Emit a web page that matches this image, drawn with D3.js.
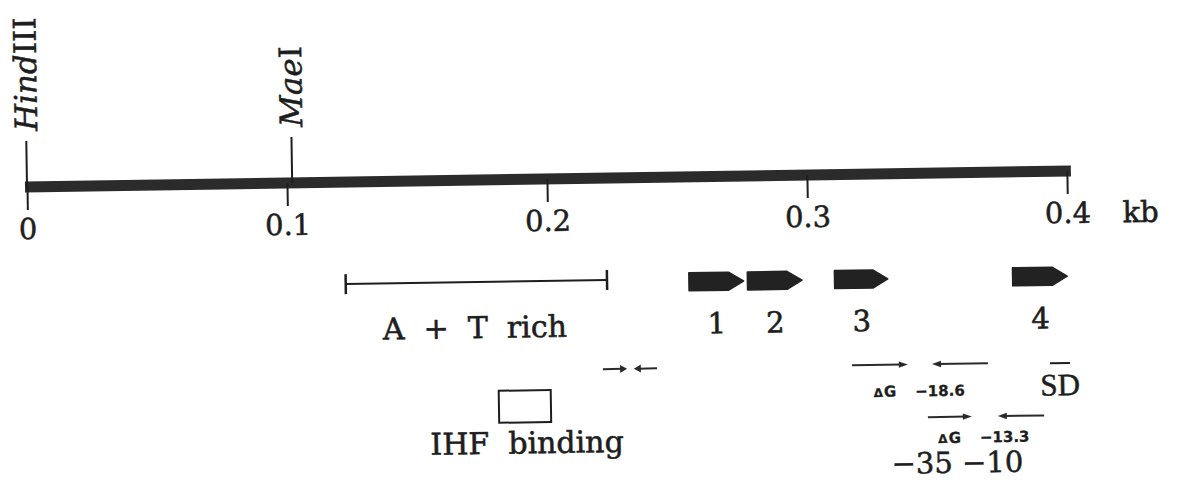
<!DOCTYPE html>
<html>
<head>
<meta charset="utf-8">
<script src="https://cdn.jsdelivr.net/npm/d3@7"></script>
<style>
  html, body { margin: 0; padding: 0; background: #fff; }
  svg { display: block; }
  text { white-space: pre; }
</style>
</head>
<body>
<script>
// ---------------- data ----------------
const tickValues = [0, 0.1, 0.2, 0.3, 0.4];
const tickLabels = ["0", "0.1", "0.2", "0.3", "0.4"];
const unitLabel = "kb";

const siteNames = ["Hind", "Mae"];
const siteSuffix = ["III", "I"];
const sitePos = [0, 0.102];

const atRich = [0.122, 0.2225];
const atRichLabel = "A  +  T  rich";
const atRichLabelPos = 0.1714;

const orfLabels = ["1", "2", "3", "4"];
const orfStart = [0.254, 0.2765, 0.310, 0.3785];
const orfEnd = [0.275, 0.2975, 0.3305, 0.3995];

const ihfBox = [0.1802, 0.2002];
const ihfLabel = "IHF  binding";
const ihfLabelPos = 0.1908;

// inverted repeats: [from, to] (direction from -> to), row
const repFrom = [0.2204, 0.2412, 0.3162, 0.3685, 0.3451, 0.3898];
const repTo   = [0.2297, 0.2323, 0.3377, 0.3470, 0.3620, 0.3720];
const repRow  = [0, 0, 0, 0, 1, 1];
const repSmall = [true, true, false, false, false, false];

const dGValues = ["−18.6", "−13.3"];
const dGPos = [0.3419, 0.3665];

const promoterLabel = "−35 −10";
const promoterPos = 0.3562;
const sdLabel = "SD";
const sdPos = 0.3885;

// ---------------- drawing ----------------
const W = 1179, H = 483;
const svg = d3.select("body").append("svg").attr("width", W).attr("height", H);
svg.append("rect").attr("width", W).attr("height", H).attr("fill", "#fff");

const x = d3.scaleLinear().domain([0, 0.4]).range([27, 1067]);
const barY = 187;
const ink = "#1e1e1e";
const serif = "'DejaVu Serif', 'Liberation Serif', serif";

const g = svg.append("g").attr("transform", `rotate(-0.88, ${x(0)}, ${barY})`);

function heavy(sel, w) {
  return sel.attr("stroke", ink).attr("stroke-width", w || 0.6).attr("paint-order", "stroke");
}

// main bar
g.append("line")
  .attr("x1", x(0) - 2).attr("x2", x(0.4) + 4)
  .attr("y1", barY).attr("y2", barY)
  .attr("stroke", "#2b2b2b").attr("stroke-width", 11);

// axis
const axis = d3.axisBottom(x)
  .tickValues(tickValues)
  .tickFormat((d, i) => tickLabels[i])
  .tickSize(23).tickSizeOuter(0);
const ag = g.append("g").attr("transform", `translate(0,${barY})`).call(axis);
ag.select(".domain").remove();
ag.selectAll(".tick line").attr("stroke", ink).attr("stroke-width", 2);
heavy(ag.selectAll(".tick text")
  .attr("y", 52).attr("dy", 0)
  .attr("fill", ink)
  .style("font-family", serif).style("font-size", "29px"), 0.5);

heavy(g.append("text")
  .attr("x", x(0.4) + 55).attr("y", barY + 52)
  .attr("fill", ink).style("font-family", serif).style("font-size", "29px")
  .text(unitLabel));

// restriction sites
sitePos.forEach((p, i) => {
  g.append("line")
    .attr("x1", x(p)).attr("x2", x(p))
    .attr("y1", 141).attr("y2", barY)
    .attr("stroke", ink).attr("stroke-width", 2);
  const t = g.append("text")
    .attr("transform", `translate(${x(p) + 11},${131}) rotate(-90)`)
    .attr("fill", ink).style("font-family", serif).style("font-size", "31px");
  heavy(t, 0.5);
  t.append("tspan").style("font-style", "italic").text(siteNames[i]);
  t.append("tspan").text(siteSuffix[i]);
});

// A + T rich
const atY = 289;
g.append("line").attr("x1", x(atRich[0])).attr("x2", x(atRich[1]))
  .attr("y1", atY).attr("y2", atY).attr("stroke", ink).attr("stroke-width", 2);
atRich.forEach(p => {
  g.append("line").attr("x1", x(p)).attr("x2", x(p))
    .attr("y1", atY - 10).attr("y2", atY + 10)
    .attr("stroke", ink).attr("stroke-width", 2.5);
});
heavy(g.append("text").attr("x", x(atRichLabelPos)).attr("y", 345)
  .attr("text-anchor", "middle").attr("fill", ink)
  .style("font-family", serif).style("font-size", "30px")
  .text(atRichLabel));

// ORF block arrows
const orfY = 292, orfH = 18, headL = 15;
orfStart.forEach((s, i) => {
  const x0 = x(s), x1 = x(orfEnd[i]);
  const p = d3.path();
  p.moveTo(x0, orfY - orfH / 2);
  p.lineTo(x1 - headL, orfY - orfH / 2);
  p.lineTo(x1, orfY);
  p.lineTo(x1 - headL, orfY + orfH / 2);
  p.lineTo(x0, orfY + orfH / 2);
  p.closePath();
  g.append("path").attr("d", p.toString()).attr("fill", "#222")
    .attr("stroke", "#222").attr("stroke-width", 1.5).attr("stroke-linejoin", "round");
  heavy(g.append("text").attr("x", (x0 + x1) / 2).attr("y", 344)
    .attr("text-anchor", "middle").attr("fill", ink)
    .style("font-family", serif).style("font-size", "29px")
    .text(orfLabels[i]));
});

// IHF box
g.append("rect")
  .attr("x", x(ihfBox[0])).attr("y", 398)
  .attr("width", x(ihfBox[1]) - x(ihfBox[0])).attr("height", 32)
  .attr("fill", "none").attr("stroke", ink).attr("stroke-width", 2);
heavy(g.append("text").attr("x", x(ihfLabelPos)).attr("y", 461)
  .attr("text-anchor", "middle").attr("fill", ink)
  .style("font-family", serif).style("font-size", "30px")
  .text(ihfLabel));

// inverted-repeat arrows
const rowY = [378, 431];
repFrom.forEach((f, i) => {
  const y = rowY[repRow[i]];
  const xa = x(f), xb = x(repTo[i]);
  const dir = Math.sign(xb - xa);
  const hl = repSmall[i] ? 7 : 9, hw = repSmall[i] ? 4 : 3.2;
  g.append("line").attr("x1", xa).attr("x2", xb - dir * hl * 0.6)
    .attr("y1", y).attr("y2", y).attr("stroke", "#2a2a2a").attr("stroke-width", 2);
  g.append("path")
    .attr("d", `M${xb},${y} L${xb - dir * hl},${y - hw} L${xb - dir * hl},${y + hw} Z`)
    .attr("fill", "#2a2a2a");
});

// ΔG labels
const dGY = [410, 457];
dGValues.forEach((v, i) => {
  const t = g.append("text").attr("x", x(dGPos[i])).attr("y", dGY[i])
    .attr("text-anchor", "middle").attr("fill", ink)
    .style("font-family", "'DejaVu Sans', sans-serif").style("font-weight", "bold")
    .style("font-size", "15px");
  heavy(t, 0.3);
  t.append("tspan").style("font-size", "12px").text("Δ");
  t.append("tspan").attr("dx", 1).text("G");
  t.append("tspan").attr("dx", 19).text(v);
});

// -35 -10
heavy(g.append("text").attr("x", x(promoterPos)).attr("y", 487)
  .attr("text-anchor", "middle").attr("fill", ink)
  .style("font-family", serif).style("font-size", "29px")
  .text(promoterLabel), 0.5);

// SD with overline
heavy(g.append("text").attr("x", x(sdPos)).attr("y", 411)
  .attr("fill", ink)
  .style("font-family", "'Liberation Serif', serif").style("font-size", "31px")
  .text(sdLabel), 0.5);
g.append("line").attr("x1", x(sdPos) + 10).attr("x2", x(sdPos) + 30)
  .attr("y1", 379).attr("y2", 379).attr("stroke", ink).attr("stroke-width", 2);
</script>
</body>
</html>
